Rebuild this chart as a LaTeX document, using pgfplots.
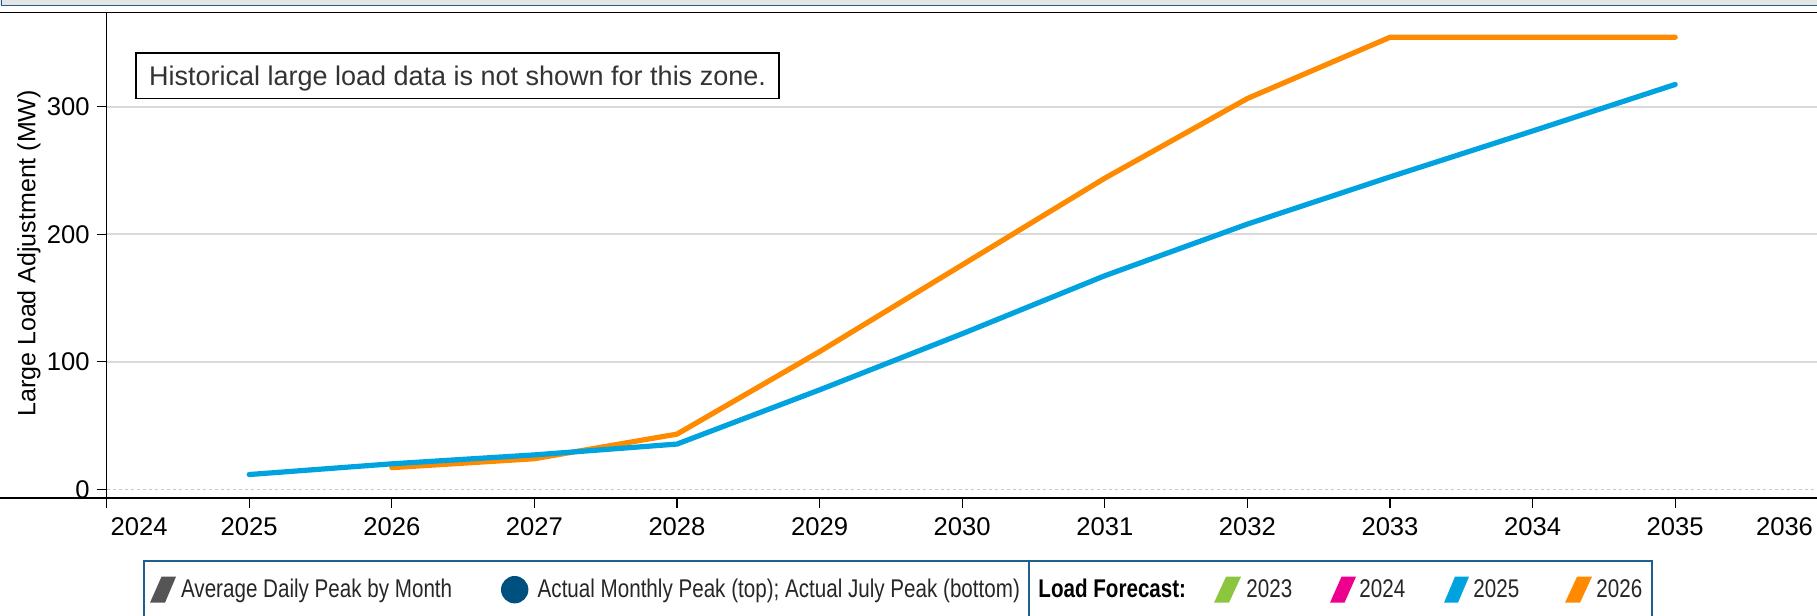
\documentclass[border=0pt]{standalone}
\usepackage{pgfplots}
\pgfplotsset{compat=1.18}
\usepackage{fontspec}
\setmainfont{Liberation Sans}
\newfontfamily\narrowfont[FakeStretch=0.805]{Liberation Sans}
\definecolor{fc25}{HTML}{00A3E0}
\definecolor{fc26}{HTML}{FF8A00}
\definecolor{fc23}{HTML}{8CC63F}
\definecolor{fc24}{HTML}{EC008C}
\definecolor{navy}{HTML}{00507F}
\definecolor{frameblue}{HTML}{1F5F8B}
\definecolor{gridgrey}{HTML}{D9D9D9}
\definecolor{zerogrey}{HTML}{C8C8C8}
\definecolor{legendgrey}{HTML}{555555}
\definecolor{notegrey}{HTML}{333333}
\begin{document}
\begin{tikzpicture}[x=0.5pt,y=0.5pt]
% cropped header
\fill[black!10] (0,616) rectangle (1817,610.5);
\draw[frameblue, line width=0.7pt] (1.5,617) -- (1.5,610.5) -- (1818,610.5);
\draw[black, line width=0.6pt] (0,603.7) -- (1817,603.7);

\begin{axis}[
  at={(53.3pt,59pt)}, anchor=south west,
  scale only axis, width=855.6pt, height=242.85pt,
  xmin=2024, xmax=2036, ymin=-6.8, ymax=374.1,
  axis lines=left, axis line style={-, black, line width=0.6pt},
  clip=false,
  xtick={2024,2025,...,2036},
  xticklabels={\makebox[0pt][l]{\hspace{2pt}2024},2025,2026,2027,2028,2029,2030,2031,2032,2033,2034,2035,\makebox[0pt][r]{2036\hspace{2.4pt}}},
  ytick={100,200,300},
  yticklabels={100,200,300},
  extra y ticks={0}, extra y tick labels={0},
  extra y tick style={grid=major, grid style={zerogrey, line width=0.6pt, dash pattern=on 1.5pt off 1.5pt}},
  ymajorgrids, grid style={gridgrey, line width=0.9pt},
  tick align=outside, major tick length=5pt,
  tick style={black, line width=0.6pt},
  tick label style={font=\fontsize{12.8}{15}\selectfont},
  xticklabel style={yshift=-1.5pt},
  /pgf/number format/assume math mode=true,
]
\addplot[fc26, line width=2.6pt, line cap=round, line join=round] coordinates {
 (2026,17) (2027,24) (2028,43.3) (2029,108) (2030,176) (2031,244) (2032,306.5) (2033,354.5) (2034,354.5) (2035,354.5)};
\addplot[fc25, line width=2.6pt, line cap=round, line join=round] coordinates {
 (2025,11.6) (2026,20) (2027,27) (2028,35.5) (2029,78) (2030,122) (2031,167.5) (2032,208) (2033,245) (2034,281) (2035,317.5)};
\end{axis}

% full-width x axis line
\draw[black, line width=1pt] (0,118) -- (1817,118);

% y label
\node[rotate=90, font=\fontsize{12.5}{15}\selectfont] at (29,362.7) {Large Load Adjustment (MW)};

% note box
\draw[black, line width=0.85pt, fill=white] (136,563) rectangle (779,517.5);
\node[text=notegrey, font=\fontsize{13.5}{16}\selectfont, inner sep=0pt, anchor=base] at (457.5,530.6) {Historical large load data is not shown for this zone.};

% legend
\draw[frameblue, line width=1pt] (144,-10) rectangle (1652,55.3);
\draw[frameblue, line width=1pt] (1028.5,55.3) -- (1028.5,-10);
\fill[legendgrey] (150,13.3) -- (165,13.3) -- (176,39.3) -- (161.5,39.3) -- cycle;
\node[font=\narrowfont\fontsize{12.8}{15}\selectfont, text=black!85, inner sep=0pt, anchor=base west] at (180.7,18.3) {Average Daily Peak by Month};
\fill[navy] (514.7,26.3) circle (13.7);
\node[font=\narrowfont\fontsize{12.8}{15}\selectfont, text=black!85, inner sep=0pt, anchor=base west] at (537.3,18.3) {Actual Monthly Peak (top); Actual July Peak (bottom)};
\node[font=\narrowfont\bfseries\fontsize{12.8}{15}\selectfont, inner sep=0pt, anchor=base west] at (1038,18.3) {Load Forecast:};
\fill[fc23] (1214,13.3) -- (1229,13.3) -- (1241,39.3) -- (1226,39.3) -- cycle;
\node[font=\narrowfont\fontsize{12.8}{15}\selectfont, text=black!85, inner sep=0pt, anchor=base west] at (1246,18.3) {2023};
\fill[fc24] (1330,13.3) -- (1344.5,13.3) -- (1356,39.3) -- (1341.5,39.3) -- cycle;
\node[font=\narrowfont\fontsize{12.8}{15}\selectfont, text=black!85, inner sep=0pt, anchor=base west] at (1359,18.3) {2024};
\fill[fc25] (1444,13.3) -- (1458,13.3) -- (1469,39.3) -- (1455,39.3) -- cycle;
\node[font=\narrowfont\fontsize{12.8}{15}\selectfont, text=black!85, inner sep=0pt, anchor=base west] at (1473,18.3) {2025};
\fill[fc26] (1565,13.3) -- (1580,13.3) -- (1592,39.3) -- (1577,39.3) -- cycle;
\node[font=\narrowfont\fontsize{12.8}{15}\selectfont, text=black!85, inner sep=0pt, anchor=base west] at (1596,18.3) {2026};

\pgfresetboundingbox
\path[use as bounding box] (0,0) rectangle (1817,616);
\end{tikzpicture}
\end{document}
